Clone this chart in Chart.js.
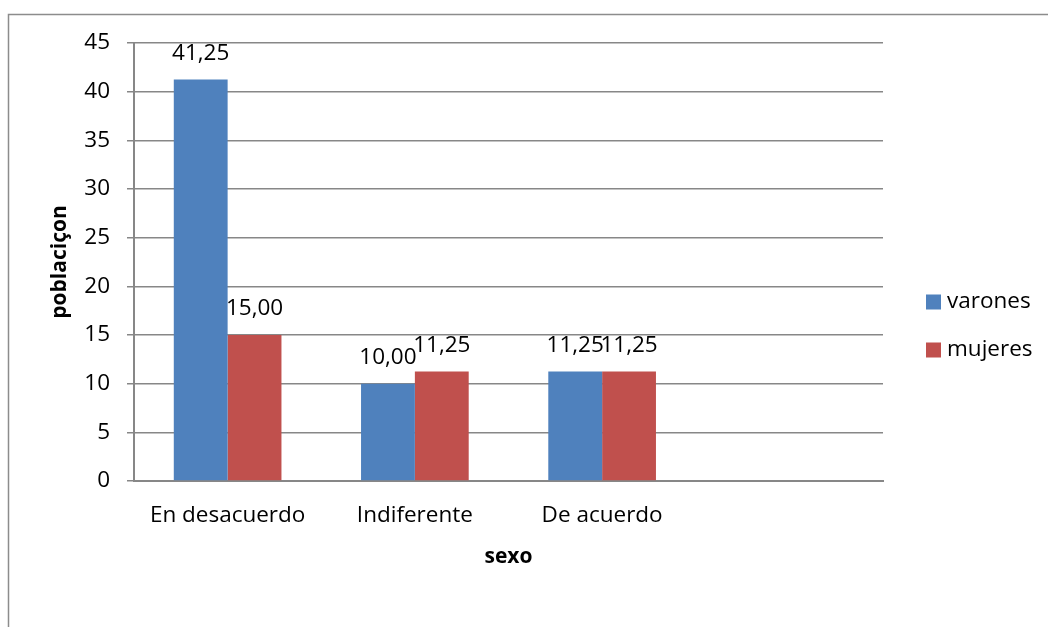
<!DOCTYPE html>
<html>
<head>
<meta charset="utf-8">
<script src="https://cdn.jsdelivr.net/npm/chart.js@4/dist/chart.umd.min.js"></script>
<style>
  html, body { margin: 0; padding: 0; background: #fff; }
  #wrap { width: 1048px; height: 627px; position: relative; }
</style>
</head>
<body>
<div id="wrap"><canvas id="c" width="1048" height="627"></canvas></div>
<script>
const categories = ['En desacuerdo', 'Indiferente', 'De acuerdo', ''];
const seriesNames = ['varones', 'mujeres'];
const varones = [41.25, 10.00, 11.25, null];
const mujeres = [15.00, 11.25, 11.25, null];
const seriesColors = ['#4F81BD', '#C0504D'];
const yTitle = 'poblaciçon';
const xTitle = 'sexo';
const yMin = 0, yMax = 45, yStep = 5;

const FONT = "'Open Sans', sans-serif";
const FS = 22.5;
const GRID = '#878787';

const framePlugin = {
  id: 'frame',
  beforeDraw(chart) {
    const ctx = chart.ctx;
    ctx.save();
    ctx.strokeStyle = '#8c8c8c';
    ctx.lineWidth = 1.5;
    ctx.beginPath();
    ctx.moveTo(8.5, 627);
    ctx.lineTo(8.5, 14.5);
    ctx.lineTo(1048, 14.5);
    ctx.stroke();
    ctx.restore();
  }
};

const labelPlugin = {
  id: 'valueLabels',
  afterDatasetsDraw(chart) {
    const ctx = chart.ctx;
    ctx.save();
    ctx.font = FS + "px " + FONT;
    ctx.fillStyle = '#000';
    ctx.textAlign = 'center';
    ctx.textBaseline = 'middle';
    chart.data.datasets.forEach((ds, di) => {
      const meta = chart.getDatasetMeta(di);
      meta.data.forEach((el, i) => {
        const v = ds.data[i];
        if (v === null || v === undefined) return;
        ctx.fillText(v.toFixed(2).replace('.', ','), el.x, el.y - 26);
      });
    });
    ctx.restore();
  }
};

const legendPlugin = {
  id: 'sideLegend',
  afterDraw(chart) {
    const ctx = chart.ctx;
    ctx.save();
    ctx.font = FS + "px " + FONT;
    ctx.textBaseline = 'middle';
    ctx.textAlign = 'left';
    chart.data.datasets.forEach((ds, i) => {
      const cy = 302 + i * 48;
      ctx.fillStyle = ds.backgroundColor;
      ctx.fillRect(926, cy - 7.5, 15, 15);
      ctx.fillStyle = '#000';
      ctx.fillText(ds.label, 947, cy);
    });
    ctx.restore();
  }
};

new Chart(document.getElementById('c'), {
  type: 'bar',
  data: {
    labels: categories,
    datasets: [
      { label: seriesNames[0], data: varones, backgroundColor: seriesColors[0] },
      { label: seriesNames[1], data: mujeres, backgroundColor: seriesColors[1] }
    ]
  },
  plugins: [framePlugin, labelPlugin, legendPlugin],
  options: {
    responsive: false,
    animation: false,
    devicePixelRatio: 1,
    layout: { padding: { left: 0, top: 43, right: 165, bottom: 0 } },
    datasets: { bar: { categoryPercentage: 0.575, barPercentage: 1.0, borderWidth: 0 } },
    plugins: { legend: { display: false }, tooltip: { enabled: false } },
    scales: {
      x: {
        grid: { display: false, drawTicks: false },
        border: { display: true, color: GRID, width: 2 },
        ticks: { color: '#000', font: { family: FONT, size: FS }, padding: 21, maxRotation: 0 },
        title: { display: true, text: xTitle, color: '#000', font: { family: FONT, size: 21, weight: 'bold' }, padding: { top: 0, bottom: 57 } },
        afterFit(s) { s.height = 146; }
      },
      y: {
        min: yMin, max: yMax,
        grid: { color: GRID, lineWidth: 1.5, drawTicks: true, tickLength: 7, tickColor: GRID },
        border: { display: true, color: GRID, width: 2 },
        ticks: { stepSize: yStep, color: '#000', font: { family: FONT, size: FS }, padding: 17 },
        title: { display: true, text: yTitle, color: '#000', font: { family: FONT, size: 21, weight: 'bold' }, padding: { top: 47, bottom: 0 } },
        afterFit(s) { s.width = 134; }
      }
    }
  }
});
</script>
</body>
</html>
